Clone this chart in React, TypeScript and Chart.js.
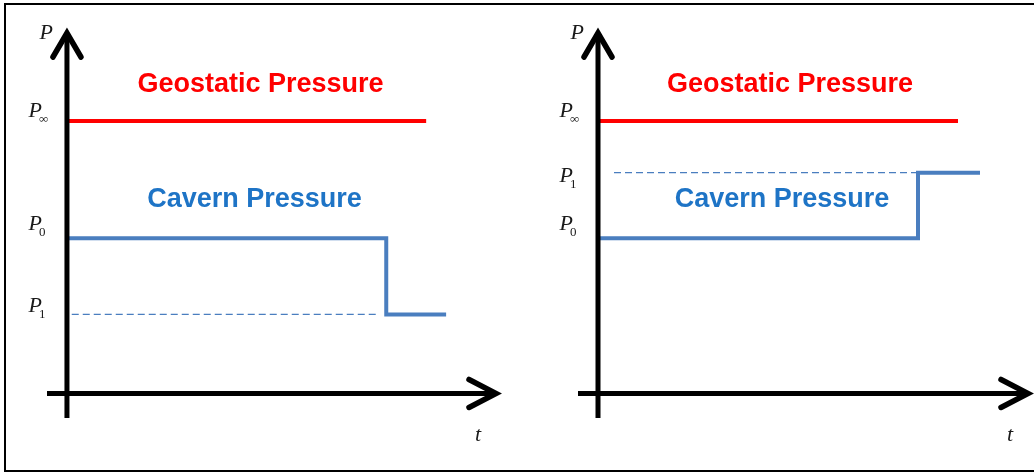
import React, { useEffect, useRef } from "react";
import { Chart, registerables } from "chart.js";

Chart.register(...registerables);

// ---- data (schematic units: time t, pressure P) ----
const geoTimes = [0, 9];
const geoValues = [10, 10];

const leftCavTimes = [0, 8, 8, 9.5];
const leftCavValues = [5.7, 5.7, 2.9, 2.9];
const leftDashTimes = [0.12, 7.8];
const leftDashValues = [2.9, 2.9];

const rightCavTimes = [0, 8, 8, 9.55];
const rightCavValues = [5.7, 5.7, 8.1, 8.1];
const rightDashTimes = [0.4, 7.98];
const rightDashValues = [8.1, 8.1];

const axisTimeRange = [-0.5, 10.8];
const axisPressureRange = [-0.9, 13.3];

const tickSubscripts = ["\u221E", "0", "1"];
const leftTickLevels = [10.15, 6.0, 3.0];
const rightTickLevels = [10.15, 6.0, 7.75];

const seriesNames = ["Geostatic Pressure", "Cavern Pressure"];
const leftNamePos = [
  [4.85, 11.07],
  [4.7, 6.84],
];
const rightNamePos = [
  [4.8, 11.07],
  [4.6, 6.84],
];

const RED = "#FF0000";
const LINE_BLUE = "#4A7EBF";
const TEXT_BLUE = "#1E74C6";

function toPts(xs: number[], ys: number[]) {
  return xs.map((x, i) => ({ x, y: ys[i] }));
}

function makeOverlay(tickLevels: number[], namePos: number[][]) {
  return {
    id: "overlay",
    afterDatasetsDraw(chart: any) {
      const ctx = chart.ctx as CanvasRenderingContext2D;
      const xs = chart.scales.x;
      const ys = chart.scales.y;
      const x0 = xs.getPixelForValue(0);
      const y0 = ys.getPixelForValue(0);
      const yTop = ys.getPixelForValue(axisPressureRange[1]);
      const yBot = ys.getPixelForValue(axisPressureRange[0]);
      const xL = xs.getPixelForValue(axisTimeRange[0]);
      const xR = xs.getPixelForValue(axisTimeRange[1]);
      ctx.save();
      ctx.strokeStyle = "#000";
      ctx.lineWidth = 5;
      ctx.lineCap = "butt";
      // axes
      ctx.beginPath();
      ctx.moveTo(x0, yBot);
      ctx.lineTo(x0, yTop + 2);
      ctx.moveTo(xL, y0);
      ctx.lineTo(xR - 2, y0);
      ctx.stroke();
      // arrow heads
      ctx.lineWidth = 5.5;
      ctx.lineCap = "round";
      ctx.lineJoin = "miter";
      ctx.beginPath();
      ctx.moveTo(x0 - 14, yTop + 26);
      ctx.lineTo(x0, yTop + 2);
      ctx.lineTo(x0 + 14, yTop + 26);
      ctx.stroke();
      ctx.beginPath();
      ctx.moveTo(xR - 29, y0 - 14);
      ctx.lineTo(xR - 2, y0);
      ctx.lineTo(xR - 29, y0 + 14);
      ctx.stroke();

      // axis titles
      ctx.fillStyle = "#1a1a1a";
      ctx.font = "italic 22px 'Liberation Serif', 'Times New Roman', serif";
      ctx.textBaseline = "alphabetic";
      ctx.textAlign = "right";
      ctx.fillText("P", x0 - 14, ys.getPixelForValue(13.0));
      ctx.textAlign = "center";
      ctx.fillText("t", xs.getPixelForValue(10.3), ys.getPixelForValue(-1.75));

      // tick labels P_inf, P_0, P_1
      tickLevels.forEach((lvl, i) => {
        const by = ys.getPixelForValue(lvl);
        ctx.font = "italic 22px 'Liberation Serif', 'Times New Roman', serif";
        ctx.textAlign = "right";
        ctx.fillText("P", x0 - 25, by);
        ctx.font = "13px 'Liberation Serif', 'Times New Roman', serif";
        ctx.textAlign = "left";
        ctx.fillText(tickSubscripts[i], x0 - 28, by + 6);
      });

      // series names
      ctx.font = "bold 27px 'Liberation Sans', Arial, sans-serif";
      ctx.textAlign = "center";
      namePos.forEach((p, i) => {
        ctx.fillStyle = i === 0 ? RED : TEXT_BLUE;
        ctx.fillText(seriesNames[i], xs.getPixelForValue(p[0]), ys.getPixelForValue(p[1]));
      });
      ctx.restore();
    },
  };
}

function Panel(props: {
  left: number;
  padLeft: number;
  padRight: number;
  cavTimes: number[];
  cavValues: number[];
  dashTimes: number[];
  dashValues: number[];
  tickLevels: number[];
  namePos: number[][];
}) {
  const ref = useRef<HTMLCanvasElement | null>(null);
  useEffect(() => {
    if (!ref.current) return;
    const chart = new Chart(ref.current, {
      type: "line",
      data: {
        datasets: [
          {
            label: seriesNames[0],
            data: toPts(geoTimes, geoValues),
            borderColor: RED,
            borderWidth: 4,
            pointRadius: 0,
            clip: false,
          } as any,
          {
            label: seriesNames[1],
            data: toPts(props.cavTimes, props.cavValues),
            borderColor: LINE_BLUE,
            borderWidth: 4,
            pointRadius: 0,
            borderJoinStyle: "miter",
            clip: false,
          } as any,
          {
            label: "reference",
            data: toPts(props.dashTimes, props.dashValues),
            borderColor: LINE_BLUE,
            borderWidth: 1.3,
            borderDash: [7, 4],
            pointRadius: 0,
            clip: false,
          } as any,
        ],
      },
      options: {
        animation: false,
        responsive: false,
        maintainAspectRatio: false,
        layout: {
          padding: { left: props.padLeft, right: props.padRight, top: 31, bottom: 57 },
        },
        scales: {
          x: { type: "linear", min: axisTimeRange[0], max: axisTimeRange[1], display: false },
          y: { type: "linear", min: axisPressureRange[0], max: axisPressureRange[1], display: false },
        },
        plugins: {
          legend: { display: false },
          tooltip: { enabled: false },
        },
        events: [],
      },
      plugins: [makeOverlay(props.tickLevels, props.namePos)],
    });
    return () => chart.destroy();
  }, []);
  return (
    <canvas
      ref={ref}
      width={517}
      height={475}
      style={{ position: "absolute", left: props.left, top: 0, width: 517, height: 475 }}
    />
  );
}

export default function App() {
  return (
    <div
      style={{
        position: "absolute",
        left: 0,
        top: 0,
        width: 1034,
        height: 475,
        overflow: "hidden",
        background: "#fff",
      }}
    >
      <div
        style={{
          position: "absolute",
          left: 4,
          top: 3,
          width: 1060,
          height: 469,
          boxSizing: "border-box",
          borderTop: "2px solid #000",
          borderLeft: "2px solid #000",
          borderBottom: "2px solid #000",
        }}
      />
      <Panel
        left={0}
        padLeft={47}
        padRight={19}
        cavTimes={leftCavTimes}
        cavValues={leftCavValues}
        dashTimes={leftDashTimes}
        dashValues={leftDashValues}
        tickLevels={leftTickLevels}
        namePos={leftNamePos}
      />
      <Panel
        left={517}
        padLeft={61}
        padRight={4}
        cavTimes={rightCavTimes}
        cavValues={rightCavValues}
        dashTimes={rightDashTimes}
        dashValues={rightDashValues}
        tickLevels={rightTickLevels}
        namePos={rightNamePos}
      />
    </div>
  );
}
